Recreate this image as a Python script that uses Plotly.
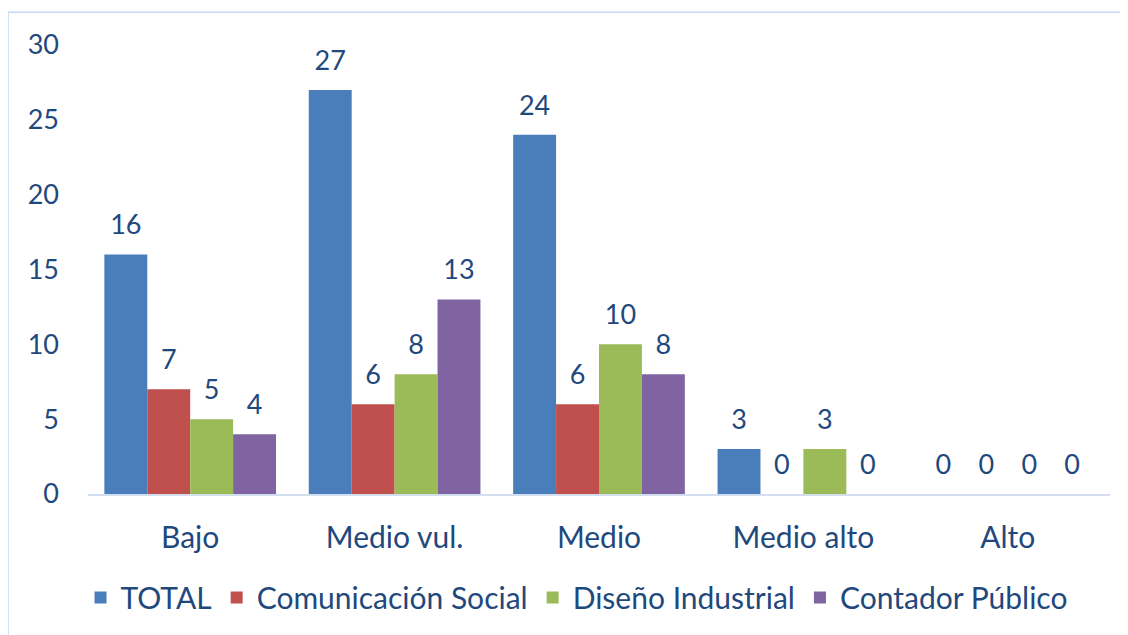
import plotly.graph_objects as go

categories = ["Bajo", "Medio vul.", "Medio", "Medio alto", "Alto"]
series_names = ["TOTAL", "Comunicación Social", "Diseño Industrial", "Contador Público"]
total = [16, 27, 24, 3, 0]
comunicacion = [7, 6, 6, 0, 0]
diseno = [5, 8, 10, 3, 0]
contador = [4, 13, 8, 0, 0]
y_ticks = [0, 5, 10, 15, 20, 25, 30]

colors = ["#4A7EBB", "#C0504D", "#9BBB59", "#8064A2"]
text_color = "#1F497D"
font_family = "Lato, Carlito, Calibri, 'Open Sans', sans-serif"
word_size = 30
digit_size = 27

fig = go.Figure()
all_vals = [total, comunicacion, diseno, contador]
for name, vals, col in zip(series_names, all_vals, colors):
    fig.add_trace(go.Bar(
        x=categories, y=vals, name=name,
        marker=dict(color=col, line=dict(width=0)),
    ))
# data labels, grouped like the bars
for name, vals in zip(series_names, all_vals):
    fig.add_trace(go.Scatter(
        x=categories, y=vals, mode="text+markers", showlegend=False,
        marker=dict(size=20, opacity=0),
        text=[str(v) for v in vals], textposition="top center",
        textfont=dict(size=digit_size, color=text_color, family=font_family),
        hoverinfo="skip", cliponaxis=False,
    ))

fig.update_layout(
    width=1120, height=627,
    barmode="group", bargap=0.16, bargroupgap=0,
    scattermode="group", scattergap=0.16,
    paper_bgcolor="white", plot_bgcolor="white",
    margin=dict(l=80, r=18, t=37, b=139),
    font=dict(family=font_family, color=text_color, size=word_size),
    showlegend=True,
    legend=dict(orientation="h", x=0.478, xanchor="center", y=-0.2306, yanchor="middle",
                font=dict(size=word_size, color=text_color, family=font_family),
                itemwidth=30, tracegroupgap=0),
)
fig.update_yaxes(range=[0, 30], tickvals=y_ticks, showgrid=False, zeroline=False,
                 showline=False, ticks="", ticklabelstandoff=28,
                 tickfont=dict(size=digit_size, color=text_color, family=font_family))
fig.update_xaxes(showgrid=False, showline=True, linecolor="#D3DFEE", linewidth=2,
                 ticks="", ticklabelstandoff=16,
                 tickfont=dict(size=word_size, color=text_color, family=font_family))

# chart-area border (only top and left edges visible, as in the cropped reference)
border = dict(color="#C6D9F1", width=1.5)
fig.add_shape(type="line", xref="paper", yref="paper",
              x0=-80 / 1022, x1=1.2, y0=484 / 451, y1=484 / 451, line=border, layer="below")
fig.add_shape(type="line", xref="paper", yref="paper",
              x0=-80 / 1022, x1=-80 / 1022, y0=-0.5, y1=484 / 451, line=border, layer="below")

fig.write_html("out.html")
